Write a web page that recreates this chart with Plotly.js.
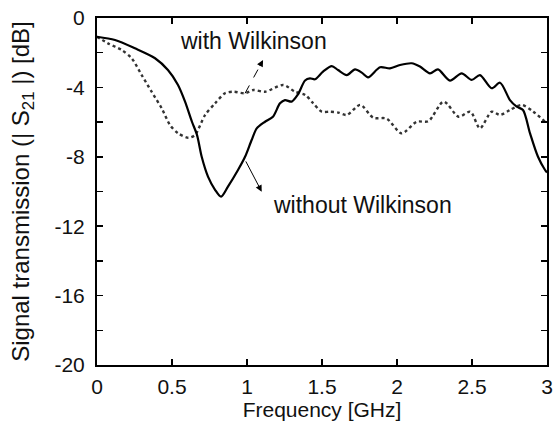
<!DOCTYPE html>
<html>
<head>
<meta charset="utf-8">
<script src="https://cdn.plot.ly/plotly-3.0.1.min.js"></script>
<style>html,body{margin:0;padding:0;background:#fff;}#chart{width:559px;height:437px;}</style>
</head>
<body>
<div id="chart"></div>
<script>
// Without Wilkinson (solid)
const freqWithout = [0, 0.12, 0.253, 0.387, 0.473, 0.54, 0.587, 0.633, 0.667, 0.698, 0.74, 0.787, 0.827, 0.873, 0.94, 0.987, 1.031, 1.065, 1.12, 1.173, 1.22, 1.253, 1.298, 1.34, 1.387, 1.42, 1.453, 1.507, 1.565, 1.607, 1.665, 1.72, 1.765, 1.807, 1.887, 1.953, 2.02, 2.098, 2.153, 2.22, 2.273, 2.353, 2.431, 2.498, 2.553, 2.631, 2.687, 2.753, 2.798, 2.84, 2.887, 2.94, 2.987, 3.0];
const s21Without = [-1.08, -1.27, -1.75, -2.32, -3.0, -3.86, -4.82, -5.98, -6.75, -8.0, -9.14, -9.9, -10.3, -9.72, -8.76, -8.0, -7.03, -6.36, -5.98, -5.69, -4.92, -4.73, -4.82, -4.4, -3.6, -3.48, -3.53, -3.09, -2.77, -3.0, -3.29, -2.96, -3.15, -3.42, -2.84, -2.9, -2.71, -2.61, -2.8, -3.19, -2.96, -3.61, -3.19, -3.57, -3.29, -4.05, -3.73, -4.73, -5.11, -5.3, -6.65, -8.0, -8.76, -8.9];
// With Wilkinson (dotted)
const freqWith = [0, 0.073, 0.164, 0.231, 0.298, 0.364, 0.431, 0.487, 0.542, 0.609, 0.653, 0.72, 0.787, 0.853, 0.909, 0.987, 1.042, 1.12, 1.242, 1.32, 1.389, 1.44, 1.498, 1.553, 1.609, 1.665, 1.755, 1.842, 1.931, 2.031, 2.131, 2.209, 2.311, 2.411, 2.489, 2.553, 2.631, 2.687, 2.753, 2.831, 2.909, 2.987, 3.0];
const s21With = [-1.08, -1.46, -1.84, -2.32, -3.29, -4.25, -5.2, -6.17, -6.65, -6.9, -6.74, -5.6, -4.92, -4.34, -4.25, -4.34, -4.15, -4.25, -3.86, -4.25, -4.44, -4.9, -5.4, -5.4, -5.45, -5.59, -5.01, -5.75, -5.8, -6.65, -5.98, -5.95, -4.82, -5.69, -5.4, -6.36, -5.4, -5.59, -5.3, -5.01, -5.4, -5.98, -6.07];

const xTickVals = [0, 0.5, 1, 1.5, 2, 2.5, 3];
const xTickText = ["0", "0.5", "1", "1.5", "2", "2.5", "3"];
const yTickVals = [0, -2, -4, -6, -8, -10, -12, -14, -16, -18, -20];
const yTickText = ["0", "", "-4", "", "-8", "", "-12", "", "-16", "", "-20"];

const FONT = "Liberation Sans, Arial, sans-serif";

const traces = [
  {x: freqWith, y: s21With, mode: "lines", line: {color: "#333", width: 2.4, dash: "dot", shape: "spline", smoothing: 0.8}, showlegend: false, hoverinfo: "skip"},
  {x: freqWithout, y: s21Without, mode: "lines", line: {color: "#000", width: 2.2, shape: "spline", smoothing: 0.8}, showlegend: false, hoverinfo: "skip"}
];

const axisCommon = {
  showgrid: false, zeroline: false, showline: true, linecolor: "#000", linewidth: 2,
  mirror: "ticks", ticks: "inside", ticklen: 6, tickwidth: 1.5, tickcolor: "#000",
  tickfont: {family: FONT, size: 21, color: "#111"}
};

const layout = {
  width: 559, height: 437,
  margin: {l: 97, r: 12, t: 18, b: 72},
  paper_bgcolor: "#fff", plot_bgcolor: "#fff",
  font: {family: FONT, color: "#111"},
  xaxis: Object.assign({}, axisCommon, {
    range: [0, 3], tickmode: "array", tickvals: xTickVals, ticktext: xTickText,
    ticklabelstandoff: 2,
    title: {text: "Frequency [GHz]", font: {family: FONT, size: 21, color: "#111"}, standoff: 5}
  }),
  yaxis: Object.assign({}, axisCommon, {
    range: [-20, 0], tickmode: "array", tickvals: yTickVals, ticktext: yTickText,
    ticklabelstandoff: 6,
    title: {text: "Signal transmission (| S<sub>21</sub> |) [dB]", font: {family: FONT, size: 24, color: "#111"}, standoff: 18}
  }),
  shapes: [
    {type: "line", xref: "x", yref: "y", x0: 0.987, y0: -4.34, x1: 1.09, y1: -2.7, line: {color: "#000", width: 1, dash: "dash"}}
  ],
  annotations: [
    {x: 1.043, y: -1.3, xref: "x", yref: "y", text: "with Wilkinson", showarrow: false, font: {family: FONT, size: 23, color: "#111"}},
    {x: 1.77, y: -10.78, xref: "x", yref: "y", text: "without Wilkinson", showarrow: false, font: {family: FONT, size: 23, color: "#111"}},
    {x: 1.107, y: -2.42, xref: "x", yref: "y", ax: 1.08, ay: -2.85, axref: "x", ayref: "y", text: "", showarrow: true, arrowhead: 2, arrowsize: 1.3, arrowwidth: 1, arrowcolor: "#000"},
    {x: 1.098, y: -10.01, xref: "x", yref: "y", ax: 0.987, ay: -8.18, axref: "x", ayref: "y", text: "", showarrow: true, arrowhead: 2, arrowsize: 1.3, arrowwidth: 1, arrowcolor: "#000"}
  ]
};

Plotly.newPlot("chart", traces, layout, {staticPlot: true, displayModeBar: false});
</script>
</body>
</html>
